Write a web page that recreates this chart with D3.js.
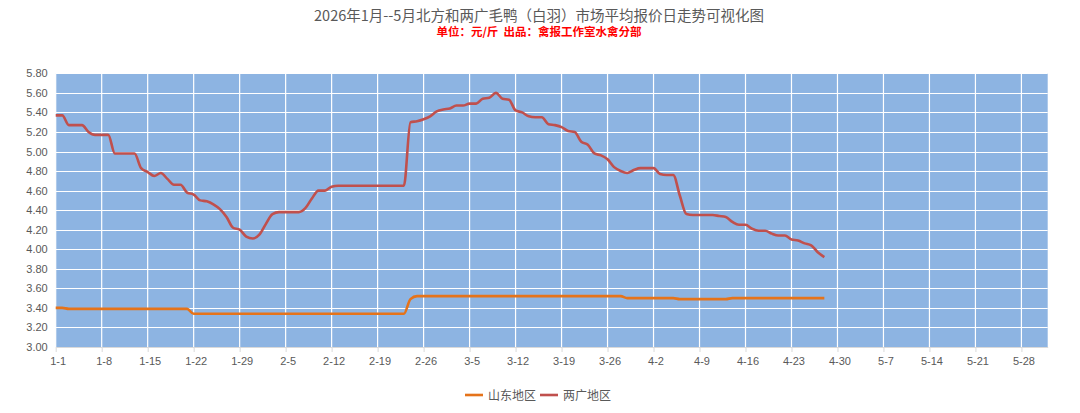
<!DOCTYPE html>
<html>
<head>
<meta charset="utf-8">
<script src="https://cdn.jsdelivr.net/npm/d3@7"></script>
<style>
  html, body { margin: 0; padding: 0; background: #ffffff; }
  svg { display: block; font-family: "Noto Sans CJK SC", "Noto Sans", sans-serif; }
</style>
</head>
<body>
<svg id="chart" width="1080" height="413"></svg>
<script>
// ---------- data ----------
const titleText = "2026年1月--5月北方和两广毛鸭（白羽）市场平均报价日走势可视化图";
const subtitleText = "单位：元/斤  出品：禽报工作室水禽分部";
const seriesNames = ["山东地区", "两广地区"];
const startDate = "2026-01-01";   // first category
const endDate = "2026-06-01";     // axis end (exclusive)
const xTickLabels = ["1-1","1-8","1-15","1-22","1-29","2-5","2-12","2-19","2-26","3-5","3-12","3-19","3-26","4-2","4-9","4-16","4-23","4-30","5-7","5-14","5-21","5-28"];
const yTicks = [3.00,3.20,3.40,3.60,3.80,4.00,4.20,4.40,4.60,4.80,5.00,5.20,5.40,5.60,5.80];

// 山东地区 daily values, 1-1 .. 4-28
const shandong = [
  3.40,3.40,3.39,3.39,3.39,3.39,3.39,3.39,3.39,3.39,
  3.39,3.39,3.39,3.39,3.39,3.39,3.39,3.39,3.39,3.39,
  3.39,3.34,3.34,3.34,3.34,3.34,3.34,3.34,3.34,3.34,
  3.34,3.34,3.34,3.34,3.34,3.34,3.34,3.34,3.34,3.34,
  3.34,3.34,3.34,3.34,3.34,3.34,3.34,3.34,3.34,3.34,
  3.34,3.34,3.34,3.34,3.49,3.52,3.52,3.52,3.52,3.52,
  3.52,3.52,3.52,3.52,3.52,3.52,3.52,3.52,3.52,3.52,
  3.52,3.52,3.52,3.52,3.52,3.52,3.52,3.52,3.52,3.52,
  3.52,3.52,3.52,3.52,3.52,3.52,3.52,3.50,3.50,3.50,
  3.50,3.50,3.50,3.50,3.50,3.49,3.49,3.49,3.49,3.49,
  3.49,3.49,3.49,3.50,3.50,3.50,3.50,3.50,3.50,3.50,
  3.50,3.50,3.50,3.50,3.50,3.50,3.50,3.50
];
// 两广地区 daily values, 1-1 .. 4-28
const liangguang = [
  5.37,5.37,5.27,5.27,5.27,5.20,5.17,5.17,5.17,4.98,
  4.98,4.98,4.98,4.83,4.79,4.75,4.78,4.72,4.66,4.66,
  4.58,4.56,4.50,4.49,4.46,4.41,4.33,4.22,4.20,4.13,
  4.11,4.15,4.26,4.36,4.38,4.38,4.38,4.38,4.42,4.52,
  4.60,4.60,4.64,4.65,4.65,4.65,4.65,4.65,4.65,4.65,
  4.65,4.65,4.65,4.65,5.30,5.31,5.33,5.36,5.41,5.43,
  5.44,5.47,5.47,5.49,5.49,5.54,5.55,5.60,5.54,5.53,
  5.42,5.40,5.36,5.35,5.35,5.28,5.27,5.25,5.21,5.20,
  5.10,5.07,4.98,4.96,4.92,4.84,4.80,4.78,4.81,4.83,
  4.83,4.83,4.77,4.76,4.76,4.55,4.36,4.35,4.35,4.35,
  4.35,4.34,4.33,4.28,4.25,4.25,4.21,4.19,4.19,4.16,
  4.14,4.14,4.10,4.09,4.06,4.04,3.97,3.92
];
const seriesColors = ["#E5731A", "#C0504D"];

// ---------- layout ----------
const svg = d3.select("#chart");
const plot = { left: 55.7, right: 1047.7, top: 73.3, bottom: 347 };

const parseDay = d3.timeParse("%Y-%m-%d");
const d0 = parseDay(startDate);
const d1 = parseDay(endDate);
const x = d3.scaleTime().domain([d0, d1]).range([plot.left, plot.right]);
const y = d3.scaleLinear().domain([yTicks[0], yTicks[yTicks.length - 1]]).range([plot.bottom, plot.top]);

const dayOf = i => d3.timeDay.offset(d0, i);
const tickDates = xTickLabels.map(s => { const [m, d] = s.split("-").map(Number); return new Date(2026, m - 1, d); });

// background
svg.append("rect")
  .attr("x", plot.left).attr("y", plot.top)
  .attr("width", plot.right - plot.left).attr("height", plot.bottom - plot.top)
  .attr("fill", "#8DB4E2");

// horizontal grid
svg.append("g").selectAll("line").data(yTicks.slice(1)).join("line")
  .attr("x1", plot.left).attr("x2", plot.right)
  .attr("y1", d => Math.round(y(d)) + 0.5).attr("y2", d => Math.round(y(d)) + 0.5)
  .attr("stroke", "#ffffff").attr("stroke-width", 1.2);

// vertical grid
svg.append("g").selectAll("line").data(tickDates).join("line")
  .attr("x1", d => x(d)).attr("x2", d => x(d))
  .attr("y1", plot.top).attr("y2", plot.bottom)
  .attr("stroke", "#ffffff").attr("stroke-width", 1.2);

// x axis
const xAxis = d3.axisBottom(x).tickValues(tickDates)
  .tickFormat((d, i) => xTickLabels[i]).tickSizeInner(5).tickSizeOuter(0).tickPadding(5);
const gx = svg.append("g").attr("transform", `translate(0,${plot.bottom})`).call(xAxis);
gx.select(".domain").attr("stroke", "#D9D9D9");
gx.selectAll(".tick line").attr("stroke", "#D9D9D9");
gx.selectAll(".tick text").attr("fill", "#595959").attr("font-size", 11)
  .attr("font-family", "'Liberation Sans', Arial, sans-serif").attr("dx", 2);

// y axis
const yAxis = d3.axisLeft(y).tickValues(yTicks).tickFormat(d3.format(".2f")).tickSize(0).tickPadding(8);
const gy = svg.append("g").attr("transform", `translate(${plot.left},0)`).call(yAxis);
gy.select(".domain").remove();
gy.selectAll(".tick text").attr("fill", "#595959").attr("font-size", 11)
  .attr("font-family", "'Liberation Sans', Arial, sans-serif");

// lines
const line = d3.line()
  .x((d, i) => x(dayOf(i)))
  .y(d => y(d))
  .curve(d3.curveMonotoneX);

[shandong, liangguang].forEach((s, k) => {
  svg.append("path").datum(s)
    .attr("d", line)
    .attr("fill", "none")
    .attr("stroke", seriesColors[k])
    .attr("stroke-width", 2.6)
    .attr("stroke-linejoin", "round");
});

// title
svg.append("text").attr("x", 539).attr("y", 21).attr("text-anchor", "middle")
  .attr("font-size", 14.5).attr("fill", "#595959").text(titleText);
svg.append("text").attr("x", 539).attr("y", 36).attr("text-anchor", "middle")
  .attr("font-size", 11.5).attr("font-weight", "bold").attr("fill", "#FF0000")
  .attr("xml:space", "preserve").style("white-space", "pre").text(subtitleText);

// legend
const legend = svg.append("g");
const legendItems = [{ x: 465, name: seriesNames[0], color: seriesColors[0] },
                     { x: 540, name: seriesNames[1], color: seriesColors[1] }];
legendItems.forEach(it => {
  legend.append("line").attr("x1", it.x).attr("x2", it.x + 18)
    .attr("y1", 395).attr("y2", 395).attr("stroke", it.color).attr("stroke-width", 2.6);
  legend.append("text").attr("x", it.x + 23).attr("y", 399.5)
    .attr("font-size", 12).attr("fill", "#595959").text(it.name);
});
</script>
</body>
</html>
